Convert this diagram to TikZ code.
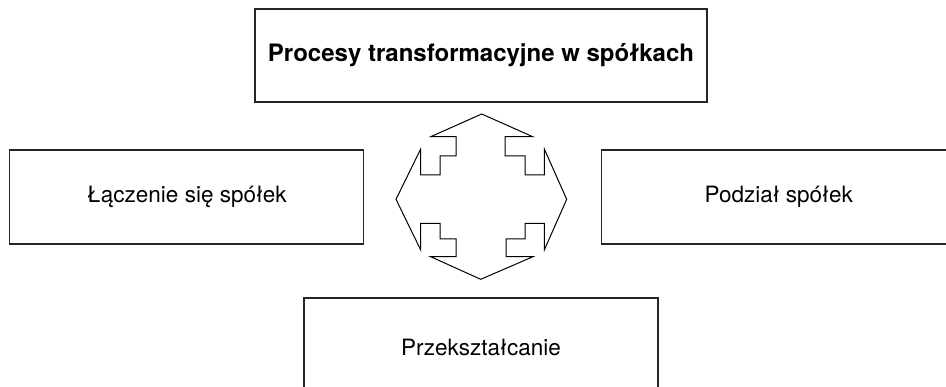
\documentclass[tikz,border=0pt]{standalone}
\usepackage{fontspec}
\setmainfont{TeX Gyre Heros}
\begin{document}
\begin{tikzpicture}[x=1pt,y=-1pt,
  box/.style={draw=black!85,line width=1.4pt,minimum width=354pt,minimum height=94pt,inner sep=0pt,font=\fontsize{22.5}{27}\selectfont},
  quad/.style={draw=black,line width=1pt,line join=miter}]
\useasboundingbox (0,0) rectangle (946,387);
\node[box,minimum width=452pt,minimum height=93pt,font=\fontsize{24}{28}\selectfont\bfseries] (top) at (481,55.5) {Procesy transformacyjne w spółkach};
\node[box] (left) at (186.75,197) {Łączenie się spółek\hspace{12pt}};
\node[box] (right) at (778.75,197) {Podział spółek};
\node[box,minimum height=98pt] (bottom) at (481,347) {Przekształcanie};
\draw[quad] (481.7,114) -- (430.7,136.7) -- (456,136.7) -- (456,156) -- (440,156) -- (440,175) -- (420.7,175) -- (420.7,149)
  -- (396,199.3) -- (420.7,250) -- (420.7,223.3) -- (440,223.3) -- (440,239) -- (456,239) -- (456,256.7) -- (430.7,256.7)
  -- (480.7,279.3) -- (533,256.7) -- (506,256.7) -- (506,239) -- (525,239) -- (525,223.3) -- (544.3,223.3) -- (544.3,250)
  -- (566.7,199.3) -- (544.3,149) -- (544.3,175) -- (525,175) -- (525,156) -- (505,156) -- (505,136.7) -- (532.7,136.7) -- cycle;
\end{tikzpicture}
\end{document}
